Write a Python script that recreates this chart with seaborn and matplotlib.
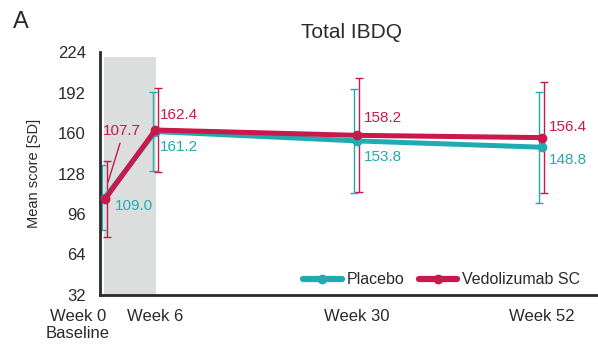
import numpy as np
import pandas as pd
import matplotlib
matplotlib.use("Agg")
import matplotlib.pyplot as plt
import matplotlib.transforms as mtransforms
import seaborn as sns

weeks = [0, 6, 30, 52]
week_labels = ["Week 0\nBaseline", "Week 6", "Week 30", "Week 52"]
placebo_mean = [109.0, 161.2, 153.8, 148.8]
placebo_sd = [26.0, 31.0, 41.0, 44.0]
vedo_mean = [107.7, 162.4, 158.2, 156.4]
vedo_sd = [30.0, 33.0, 45.0, 44.0]
groups = ["Placebo", "Vedolizumab SC"]
yticks = [32, 64, 96, 128, 160, 192, 224]

teal = "#21aab2"
red = "#c8184c"
dark = "#2a2a2a"

sns.set_theme(style="white")
plt.rcParams["font.family"] = ["Liberation Sans", "DejaVu Sans"]

df = pd.DataFrame({
    "week": weeks * 2,
    "mean": placebo_mean + vedo_mean,
    "sd": placebo_sd + vedo_sd,
    "group": [groups[0]] * 4 + [groups[1]] * 4,
})
dodge = {groups[0]: -0.3, groups[1]: 0.3}
df["xerr_pos"] = df["week"] + df["group"].map(dodge)

fig = plt.figure(figsize=(5.98, 3.45), dpi=100)
ax = fig.add_axes([0.167, 0.145, 0.84, 0.704])

ax.fill_between([-0.1, 6.1], 32, 220, color="#dcdddd", zorder=0, lw=0)

palette = {groups[0]: teal, groups[1]: red}
for g in groups:
    sub = df[df["group"] == g]
    ax.errorbar(sub["xerr_pos"], sub["mean"], yerr=sub["sd"], fmt="none",
                ecolor=palette[g], elinewidth=1.0, capsize=3, capthick=1.0, zorder=2)

sns.lineplot(data=df, x="week", y="mean", hue="group", palette=palette,
             marker="o", markersize=7, markeredgewidth=0, linewidth=3.6,
             ax=ax, zorder=3, legend=True)

ax.set_xlim(-0.6, 59.2)
ax.set_ylim(32, 224)
ax.set_yticks(yticks)
ax.set_yticklabels([str(t) for t in yticks], fontsize=12, color=dark)
ax.set_xticks(weeks)
ax.set_xticklabels(week_labels, fontsize=12, color=dark, linespacing=1.2)
ax.tick_params(axis="y", direction="out", length=8, width=2, color=dark, pad=2)
ax.tick_params(axis="x", length=0, pad=10)
first = ax.get_xticklabels()[0]
first.set_transform(first.get_transform() + mtransforms.ScaledTranslation(-27/100, 0, fig.dpi_scale_trans))

for s in ["top", "right"]:
    ax.spines[s].set_visible(False)
for s in ["left", "bottom"]:
    ax.spines[s].set_color(dark)
    ax.spines[s].set_linewidth(2)

ax.set_xlabel("")
ax.set_ylabel("Mean score [SD]", fontsize=10.5, color=dark, labelpad=12)

lbl = dict(fontsize=11, va="center", ha="left")
ax.text(6.6, 174, f"{vedo_mean[1]:.1f}", color=red, **lbl)
ax.text(6.6, 149, f"{placebo_mean[1]:.1f}", color=teal, **lbl)
ax.text(30.85, 172, f"{vedo_mean[2]:.1f}", color=red, **lbl)
ax.text(30.85, 141, f"{placebo_mean[2]:.1f}", color=teal, **lbl)
ax.text(52.9, 165, f"{vedo_mean[3]:.1f}", color=red, **lbl)
ax.text(52.9, 139, f"{placebo_mean[3]:.1f}", color=teal, **lbl)
ax.text(1.2, 102, f"{placebo_mean[0]:.1f}", color=teal, **lbl)
ax.text(-0.3, 161.5, f"{vedo_mean[0]:.1f}", color=red, **lbl)
ax.annotate("", xy=(0.36, 121), xytext=(1.8, 152),
            arrowprops=dict(arrowstyle="-", color=red, lw=1.0, shrinkA=0, shrinkB=0))

ax.set_title("Total IBDQ", fontsize=15, color=dark, pad=10)
fig.text(0.022, 0.935, "A", fontsize=17, color=dark, ha="left", va="center")

leg = ax.legend(loc="center left", bbox_to_anchor=(0.405, 0.062), ncol=2, frameon=False,
                fontsize=11.5, handlelength=2.4, columnspacing=0.9, handletextpad=0.3,
                labelcolor=dark, borderaxespad=0, borderpad=0)
for h in leg.legend_handles:
    h.set_linewidth(4.5)
    h.set_markersize(7)

fig.savefig("out.png", dpi=100)
